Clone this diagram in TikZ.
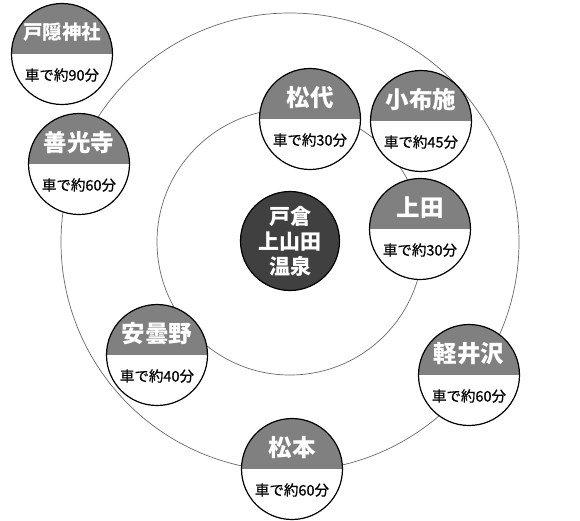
\documentclass[tikz,border=0pt]{standalone}
\usepackage{fontspec}
\newfontfamily\jpfont{Noto Sans CJK JP}
\newfontfamily\jptimefont[FakeBold=0.6]{Noto Sans CJK JP}
\usepackage{xcolor}
\definecolor{spotgray}{RGB}{128,128,128}
\definecolor{hubgray}{RGB}{64,64,64}
\definecolor{ringgray}{RGB}{105,105,105}
\usetikzlibrary{positioning}

\tikzset{
  spot/.style={circle, draw=black, line width=1.2pt, fill=white, minimum size=101pt, inner sep=0pt,
    path picture={\fill[spotgray] (path picture bounding box.north west) rectangle (path picture bounding box.east);}},
  spottitle/.style={font=\jpfont\bfseries\fontsize{23.5}{25}\selectfont, text=white, inner sep=0pt},
  spottime/.style={font=\jptimefont\fontsize{14.5}{16}\selectfont, text=black, inner sep=0pt},
  ringline/.style={draw=ringgray, line width=0.7pt}
}

\begin{document}
\begin{tikzpicture}[x=1pt, y=-1pt]
  \useasboundingbox (0,0) rectangle (580,520);
  % rings round the onsen
  \coordinate (mid) at (290,242);
  \draw[ringline] (mid) circle (229pt);
  \draw[ringline] (mid) circle (133pt);
  % onsen in the middle
  \node[circle, draw=black, line width=1.2pt, fill=hubgray, minimum size=99pt, inner sep=0pt,
        font=\jpfont\bfseries\fontsize{21}{25}\selectfont, text=white, align=center] (hub) at (290,241) {戸倉\\上山田\\温泉};
  % places
  \node[spot] (togakushi) at (62,54) {};
  \node[spottitle, font=\jpfont\bfseries\fontsize{19.5}{22}\selectfont] (togakushi-t) at ([yshift=22pt]togakushi.center) {戸隠神社};
  \node[spottime] (togakushi-m) at ([yshift=-21pt]togakushi.center) {車で約90分};
  \node[spot] (zenkoji) at (79,164) {};
  \node[spottitle] (zenkoji-t) at ([yshift=21pt]zenkoji.center) {善光寺};
  \node[spottime] (zenkoji-m) at ([yshift=-21pt]zenkoji.center) {車で約60分};
  \node[spot] (matsushiro) at (310,119) {};
  \node[spottitle] (matsushiro-t) at ([yshift=21pt]matsushiro.center) {松代};
  \node[spottime] (matsushiro-m) at ([yshift=-21pt]matsushiro.center) {車で約30分};
  \node[spot] (obuse) at (421,121) {};
  \node[spottitle] (obuse-t) at ([yshift=21pt]obuse.center) {小布施};
  \node[spottime] (obuse-m) at ([yshift=-21pt]obuse.center) {車で約45分};
  \node[spot] (ueda) at (420,229) {};
  \node[spottitle] (ueda-t) at ([yshift=21pt]ueda.center) {上田};
  \node[spottime] (ueda-m) at ([yshift=-21pt]ueda.center) {車で約30分};
  \node[spot] (azumino) at (157,355) {};
  \node[spottitle] (azumino-t) at ([yshift=21pt]azumino.center) {安曇野};
  \node[spottime] (azumino-m) at ([yshift=-21pt]azumino.center) {車で約40分};
  \node[spot] (karuizawa) at (469,375) {};
  \node[spottitle] (karuizawa-t) at ([yshift=21pt]karuizawa.center) {軽井沢};
  \node[spottime] (karuizawa-m) at ([yshift=-21pt]karuizawa.center) {車で約60分};
  \node[spot] (matsumoto) at (292,469) {};
  \node[spottitle] (matsumoto-t) at ([yshift=21pt]matsumoto.center) {松本};
  \node[spottime] (matsumoto-m) at ([yshift=-21pt]matsumoto.center) {車で約60分};
\end{tikzpicture}
\end{document}
